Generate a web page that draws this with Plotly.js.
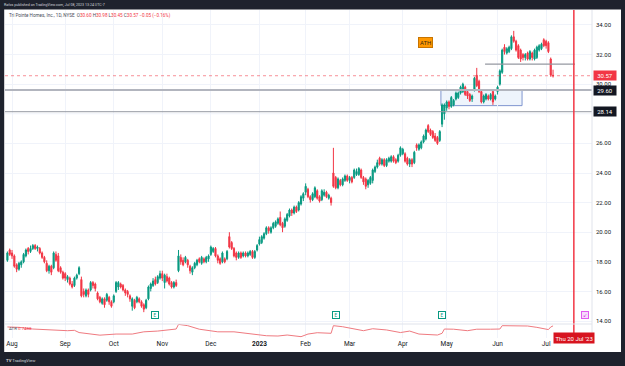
<!DOCTYPE html>
<html>
<head>
<meta charset="utf-8">
<script src="https://cdn.plot.ly/plotly-3.0.1.min.js"></script>
<style>
  html, body { margin: 0; padding: 0; background: #1e222d; }
  #chart { width: 625px; height: 366px; }
</style>
</head>
<body>
<div id="chart"></div>
<script>
// TPH daily sessions, 2022-07-28 .. 2023-07-07 (one value per trading day)
const open = [
 18.1,18.8,18.6,18.4,17.8,17.5,17.8,18.0,18.4,18.9,18.7,18.9,19.1,18.9,18.9,18.6,18.3,17.9,17.4,17.7,
 17.6,18.5,18.4,17.6,17.3,17.2,16.8,16.9,16.5,16.4,16.9,17.2,16.8,16.0,15.7,16.1,16.1,16.6,16.5,15.9,
 15.6,15.2,15.5,15.4,15.6,15.3,15.3,16.0,16.3,16.5,16.4,16.1,16.0,15.7,15.0,15.4,15.3,15.5,15.3,15.1,
 14.9,15.5,16.2,16.4,16.8,16.6,16.9,17.2,16.6,17.0,16.9,16.6,16.3,16.6,17.4,18.3,18.1,18.0,18.1,17.7,
 17.3,17.6,17.8,18.2,17.9,18.2,18.0,18.2,18.5,18.7,18.9,18.4,18.2,18.0,18.2,18.2,19.7,19.3,18.9,18.6,
 18.3,18.6,18.4,18.6,18.4,18.5,18.7,18.3,18.8,19.2,19.3,19.6,19.9,20.3,20.0,20.3,20.4,20.6,21.0,20.6,
 20.4,20.8,21.1,21.5,21.3,21.7,21.5,21.9,22.3,22.7,22.9,22.4,22.2,22.4,22.8,22.4,22.2,22.5,22.7,22.3,
 22.3,24.0,23.7,23.0,23.5,23.2,23.5,23.8,23.5,23.7,23.7,23.9,23.9,24.2,23.7,23.6,23.2,23.3,23.5,24.1,
 24.4,25.0,24.6,24.9,24.5,24.8,24.8,25.1,24.9,24.8,25.2,25.3,25.3,25.0,24.6,24.9,24.7,25.9,25.6,25.7,
 26.1,26.3,27.2,26.9,26.8,26.5,26.4,26.2,27.3,28.0,28.4,28.8,28.5,28.6,29.0,29.1,29.4,29.5,29.8,29.5,
 29.3,29.0,29.6,30.6,30.2,29.5,28.8,29.0,29.2,29.0,29.5,29.0,29.5,30.0,30.8,32.5,32.1,32.2,32.4,33.2,
 32.9,32.6,32.3,32.0,31.8,32.1,31.7,32.1,31.7,31.8,32.3,32.4,33.0,32.9,32.8,31.7,30.60
];
const high = [
 18.7,18.9,18.8,18.5,17.9,18.0,18.1,18.6,18.9,19.0,19.1,19.2,19.2,19.1,19.0,18.7,18.4,18.1,17.8,17.8,
 18.7,18.7,18.6,17.7,17.4,17.3,17.1,17.0,16.7,17.0,17.2,17.7,17.0,16.2,16.2,16.2,16.7,16.7,16.6,16.0,
 15.7,15.6,15.6,15.9,15.7,15.4,15.8,16.7,16.7,16.6,16.5,16.2,16.1,15.8,15.6,15.5,15.7,15.6,15.4,15.2,
 15.5,16.4,16.6,16.9,17.0,17.1,17.4,17.4,17.2,17.2,17.0,16.7,16.7,16.8,18.8,18.5,18.3,18.4,18.2,17.8,
 17.7,18.0,18.2,18.3,18.4,18.3,18.4,18.5,19.1,19.0,19.0,18.5,18.3,18.7,18.3,18.8,20.0,19.4,19.0,18.7,
 18.7,18.7,18.7,18.7,18.7,18.8,18.8,18.8,19.2,19.7,19.8,20.0,20.4,20.4,20.4,20.7,20.8,21.0,21.4,20.7,
 21.0,21.3,21.6,21.6,21.8,21.8,22.1,22.5,22.7,23.3,23.0,22.5,22.7,23.1,22.9,22.5,22.9,22.9,22.8,22.6,
 22.4,25.7,23.8,23.7,23.6,23.7,23.9,23.9,23.8,23.8,24.3,24.3,24.4,24.3,23.8,23.7,23.6,23.8,24.3,24.5,
 24.9,25.1,25.0,25.0,25.0,25.1,25.2,25.2,25.0,25.3,25.8,25.7,25.4,25.1,25.0,25.0,25.5,26.0,26.0,26.2,
 26.6,27.0,27.3,27.0,26.9,26.7,26.5,26.9,28.7,28.7,28.9,28.9,29.2,29.0,29.5,29.5,29.9,30.1,29.9,29.6,
 29.4,29.3,30.5,31.1,30.3,29.6,29.3,29.4,29.3,29.4,29.6,29.3,29.9,31.0,32.4,32.7,32.5,32.6,33.3,33.6,
 33.0,32.7,32.4,32.1,32.1,32.2,32.3,32.2,32.4,32.6,32.7,32.8,33.1,33.0,32.9,31.8,30.98
];
const low = [
 18.0,18.4,18.2,17.6,17.3,17.4,17.6,17.9,18.3,18.5,18.6,18.8,18.8,18.7,18.5,18.2,17.9,17.3,17.2,17.1,
 17.5,18.0,17.3,17.2,16.8,16.7,16.6,16.4,16.2,16.3,16.8,17.1,15.6,15.6,15.6,15.6,16.0,16.2,16.0,15.4,
 15.2,15.1,14.9,15.3,15.1,14.9,15.2,15.9,16.1,16.2,16.0,15.7,15.6,15.3,14.7,14.8,15.2,15.2,14.9,14.6,
 14.8,15.4,16.0,16.3,16.4,16.5,16.8,16.7,16.2,16.6,16.4,16.2,16.2,16.3,17.3,17.8,17.7,17.9,17.6,17.2,
 17.1,17.5,17.7,17.9,17.8,17.9,17.9,18.0,18.4,18.6,18.3,17.9,17.8,17.9,17.9,18.1,18.9,18.8,18.3,18.1,
 18.2,18.2,18.3,18.3,18.3,18.4,18.2,18.2,18.7,19.1,19.2,19.5,19.8,19.9,19.9,20.2,20.3,20.5,20.4,20.0,
 20.3,20.7,21.0,21.1,21.2,21.3,21.4,21.8,22.1,22.5,22.3,22.0,22.1,22.3,22.2,22.0,22.1,22.4,22.3,22.2,
 21.8,23.0,22.9,22.9,23.1,23.1,23.4,23.4,23.3,23.3,23.6,23.8,23.8,23.6,23.2,22.9,23.0,23.2,23.3,24.0,
 24.3,24.5,24.5,24.4,24.4,24.7,24.7,24.7,24.6,24.7,25.1,25.2,24.7,24.5,24.4,24.4,24.6,25.5,25.5,25.6,
 26.0,26.2,26.7,26.5,26.3,26.1,25.9,26.1,27.1,27.6,28.2,28.3,28.4,28.5,28.9,29.0,29.3,29.4,29.2,29.0,
 28.8,28.8,29.5,29.8,29.4,28.7,28.7,28.9,28.9,28.9,28.6,28.9,29.3,29.9,30.7,32.0,32.0,32.1,32.3,32.8,
 32.2,31.7,31.5,31.6,31.6,31.6,31.6,31.6,31.6,31.7,32.2,32.3,32.5,32.4,32.1,30.5,30.45
];
const close = [
 18.6,18.5,18.4,17.7,17.5,17.9,18.0,18.5,18.8,18.7,18.9,19.1,18.9,19.0,18.6,18.3,18.0,17.4,17.7,17.3,
 18.6,18.1,17.4,17.3,16.9,16.9,17.0,16.5,16.3,16.9,17.1,17.6,15.7,15.8,16.1,15.8,16.6,16.4,16.2,15.5,
 15.3,15.5,15.1,15.8,15.3,15.0,15.7,16.6,16.6,16.3,16.1,15.9,15.8,15.5,15.5,14.9,15.6,15.3,15.0,14.8,
 15.4,16.3,16.5,16.7,16.5,17.0,17.2,16.9,17.1,16.7,16.5,16.3,16.6,16.4,18.4,18.0,17.8,18.3,17.8,17.4,
 17.6,17.9,18.1,18.0,18.3,18.0,18.3,18.4,19.0,18.9,18.4,18.1,17.9,18.6,18.0,18.7,19.0,18.9,18.4,18.3,
 18.6,18.3,18.6,18.4,18.6,18.7,18.3,18.7,19.1,19.5,19.7,19.9,20.3,20.1,20.3,20.6,20.7,20.9,20.5,20.3,
 20.9,21.2,21.5,21.3,21.7,21.4,22.0,22.4,22.6,23.1,22.4,22.2,22.6,23.0,22.3,22.1,22.8,22.7,22.4,22.5,
 22.0,23.1,23.0,23.6,23.2,23.6,23.8,23.5,23.7,23.4,24.2,24.1,24.3,23.7,23.4,23.1,23.5,23.7,24.2,24.4,
 24.7,24.6,24.9,24.5,24.9,25.0,25.1,24.8,24.7,25.2,25.7,25.6,24.8,24.6,24.9,24.6,25.4,25.7,25.9,26.1,
 26.5,26.9,26.8,26.6,26.4,26.2,26.0,26.8,28.6,28.6,28.8,28.5,29.1,28.9,29.4,29.4,29.8,30.0,29.3,29.2,
 28.9,29.2,30.4,29.9,29.5,28.8,29.2,29.3,29.0,29.3,28.8,29.2,29.8,30.9,32.3,32.2,32.4,32.5,33.2,32.9,
 32.3,31.8,31.7,31.8,32.0,31.7,32.2,31.8,32.3,32.5,32.6,32.7,32.6,32.6,32.2,30.62,30.57
];

// ATR(14) readings along the lower pane: session index and value
const atrSession = [0,5,11,18,26,29,31,40,47,54,59,65,73,74,78,83,87,91,98,105,112,117,121,127,130,134,140,141,145,154,158,164,170,174,178,186,188,189,193,199,203,209,213,214,220,225,229,234,235,236];
const atrValue   = [0.72,0.71,0.665,0.64,0.62,0.63,0.57,0.50,0.53,0.53,0.59,0.61,0.665,0.79,0.755,0.66,0.62,0.59,0.59,0.53,0.485,0.477,0.504,0.46,0.53,0.566,0.55,0.755,0.727,0.62,0.673,0.64,0.57,0.61,0.53,0.504,0.55,0.665,0.66,0.62,0.66,0.66,0.665,0.755,0.755,0.746,0.71,0.65,0.72,0.7488];

// Time-axis labels: first session of each month
const monthSession = [2,25,46,67,88,109,129,148,171,190,212,233];
const monthLabel   = ['Aug','Sep','Oct','Nov','Dec','<b>2023</b>','Feb','Mar','Apr','May','Jun','Jul'];

// Price-scale labels (28.00 sits under the 28.14 level tag, so it is left out)
const priceTicks = [14, 16, 18, 20, 22, 24, 26, 30, 32, 34];

// Drawn levels
const lastClose = 30.57;
const supportHi = 29.60;
const supportLo = 28.14;
const rangeLevel = 31.36;
const earningsSessions = [64, 142, 188];
const markerSession = 245;   // Thu 20 Jul '23

const session = close.map((_, i) => i);

const UP = '#089981', DOWN = '#f23645';

const traces = [
  {
    type: 'candlestick', x: session, open: open, high: high, low: low, close: close,
    xaxis: 'x', yaxis: 'y',
    increasing: { line: { color: UP, width: 1 }, fillcolor: UP },
    decreasing: { line: { color: DOWN, width: 1 }, fillcolor: DOWN },
    whiskerwidth: 0, hoverinfo: 'skip', showlegend: false
  },
  {
    type: 'scatter', mode: 'lines', x: atrSession, y: atrValue,
    xaxis: 'x', yaxis: 'y2',
    line: { color: '#ef7a80', width: 1 }, hoverinfo: 'skip', showlegend: false
  }
];

const frame = '#1e222d';
const px = v => (v - 5) / 587;        // horizontal pixel -> paper
const py = v => (338 - v) / 328;      // vertical pixel -> paper

const shapes = [
  // grid line of the 28.00 level (its label is hidden by the tag)
  { type: 'line', xref: 'paper', yref: 'y', x0: 0, x1: 1, y0: 28, y1: 28,
    line: { color: '#f0f3fa', width: 1 }, layer: 'below' },
  // consolidation box
  { type: 'rect', xref: 'x', yref: 'y', x0: 187.5, x1: 222.6, y0: 28.55, y1: supportHi,
    fillcolor: '#eef4fc', line: { color: '#7f95cf', width: 1 }, layer: 'below' },
  // horizontal levels
  { type: 'line', xref: 'paper', yref: 'y', x0: 0, x1: 1, y0: supportHi, y1: supportHi,
    line: { color: '#b2b5be', width: 2 } },
  { type: 'line', xref: 'paper', yref: 'y', x0: 0, x1: 1, y0: supportLo, y1: supportLo,
    line: { color: '#9598a1', width: 1 } },
  { type: 'line', xref: 'x', yref: 'y', x0: 206.6, x1: 245.5, y0: rangeLevel, y1: rangeLevel,
    line: { color: '#9598a1', width: 1.2 } },
  { type: 'line', xref: 'paper', yref: 'y', x0: 0, x1: 1, y0: lastClose, y1: lastClose,
    line: { color: 'rgba(242,54,69,0.55)', width: 1, dash: 'dot' } },
  // vertical date marker
  { type: 'line', xref: 'x', yref: 'paper', x0: markerSession, x1: markerSession, y0: 0, y1: 1,
    line: { color: '#f23645', width: 1.5 } },
  // pane separator and price-scale border
  { type: 'line', xref: 'paper', yref: 'paper', x0: 0, x1: 1, y0: py(324), y1: py(324),
    line: { color: '#e0e3eb', width: 1 } },
  { type: 'line', xref: 'paper', yref: 'paper', x0: 1, x1: 1, y0: py(340), y1: 1,
    line: { color: '#e0e3eb', width: 1 } },
  // dark frame around the snapshot
  { type: 'rect', xref: 'paper', yref: 'paper', x0: -0.05, x1: 1.1, y0: py(9.5), y1: 1.1,
    fillcolor: frame, line: { width: 0 }, layer: 'above' },
  { type: 'rect', xref: 'paper', yref: 'paper', x0: -0.05, x1: 1.1, y0: -0.2, y1: py(352),
    fillcolor: frame, line: { width: 0 }, layer: 'above' },
  { type: 'rect', xref: 'paper', yref: 'paper', x0: -0.05, x1: px(4.2), y0: -0.2, y1: 1.1,
    fillcolor: frame, line: { width: 0 }, layer: 'above' },
  { type: 'rect', xref: 'paper', yref: 'paper', x0: px(621), x1: 1.1, y0: -0.2, y1: 1.1,
    fillcolor: frame, line: { width: 0 }, layer: 'above' }
];

const red = '#f23645';
const tag = (v, bg) => ({
  xref: 'paper', yref: 'y', x: px(593), y: v, xanchor: 'left', yanchor: 'middle',
  text: v.toFixed(2), showarrow: false, bgcolor: bg, borderpad: 1, width: 20, height: 7,
  font: { size: 6, color: '#ffffff', family: 'Roboto' }
});

const annotations = [
  { xref: 'paper', yref: 'paper', x: px(2), y: py(4.8), xanchor: 'left', yanchor: 'middle', showarrow: false,
    text: 'Rafos published on TradingView.com, Jul 08, 2023 13:24 UTC-7',
    font: { size: 3.6, color: '#d1d4dc', family: 'Roboto' } },
  { xref: 'paper', yref: 'paper', x: px(6.5), y: py(15), xanchor: 'left', yanchor: 'middle', showarrow: false,
    text: 'Tri Pointe Homes, Inc., 1D, NYSE  O<span style="color:' + red + '">30.60</span> H<span style="color:' + red + '">30.98</span> L<span style="color:' + red + '">30.45</span> C<span style="color:' + red + '">30.57</span> <span style="color:' + red + '">−0.05 (−0.16%)</span>',
    font: { size: 4.6, color: '#4a4e5a', family: 'Roboto' } },
  { xref: 'paper', yref: 'paper', x: px(6.5), y: py(328), xanchor: 'left', yanchor: 'middle', showarrow: false,
    text: 'ATR <span style="color:' + red + '">0.7488</span>',
    font: { size: 4.4, color: '#4a4e5a', family: 'Roboto' } },
  { xref: 'paper', yref: 'paper', x: px(3.5), y: py(360), xanchor: 'left', yanchor: 'middle', showarrow: false,
    text: '<b>TV</b> TradingView', font: { size: 4.2, color: '#d1d4dc', family: 'Roboto' } },
  tag(lastClose, red),
  tag(supportHi, '#131722'),
  tag(supportLo, '#131722'),
  { xref: 'x', yref: 'y', x: 181, y: 32.8, showarrow: false, text: 'ATH',
    bgcolor: '#ff9800', bordercolor: '#c77400', borderwidth: 1, borderpad: 1,
    font: { size: 6, color: '#3a2a10', family: 'Roboto' } },
  { xref: 'x', yref: 'paper', x: markerSession, y: py(343.5), showarrow: false,
    text: "Thu 20 Jul '23", bgcolor: '#d7141f', borderpad: 1.5,
    font: { size: 6, color: '#ffffff', family: 'Roboto' } }
];

earningsSessions.forEach(s => annotations.push({
  xref: 'x', yref: 'paper', x: s, y: py(318.5), showarrow: false, text: 'E',
  bgcolor: '#ffffff', bordercolor: UP, borderwidth: 1, borderpad: 0.5, width: 5, height: 5,
  font: { size: 4.5, color: UP, family: 'Roboto' }
}));
annotations.push({
  xref: 'x', yref: 'paper', x: 250, y: py(318.5), showarrow: false, text: '↙',
  bgcolor: '#f6dcfb', bordercolor: '#e15cf0', borderwidth: 1, borderpad: 0.5, width: 5, height: 5,
  font: { size: 5, color: '#d43fe8', family: 'DejaVu Sans' }
});

const layout = {
  width: 625, height: 366,
  margin: { l: 5, r: 33, t: 10, b: 28 },
  paper_bgcolor: '#ffffff', plot_bgcolor: '#ffffff',
  showlegend: false,
  font: { family: 'Roboto, sans-serif', color: '#131722' },
  xaxis: {
    anchor: 'y2', range: [-1.04, 252.85],
    tickmode: 'array', tickvals: monthSession, ticktext: monthLabel,
    showgrid: true, gridcolor: '#f0f3fa', gridwidth: 1,
    zeroline: false, showline: false, ticks: '',
    tickfont: { size: 6.5, color: '#131722' },
    rangeslider: { visible: false }, fixedrange: true
  },
  yaxis: {
    domain: [py(324), 1], range: [13.80, 35.01], anchor: 'x', side: 'right',
    tickmode: 'array', tickvals: priceTicks, ticktext: priceTicks.map(v => v.toFixed(2)),
    showgrid: true, gridcolor: '#f0f3fa', gridwidth: 1,
    zeroline: false, showline: false, ticks: '',
    tickfont: { size: 6, color: '#131722' }, ticklabelstandoff: 3, fixedrange: true
  },
  yaxis2: {
    domain: [0, py(324)], range: [0.424, 0.80], anchor: 'x',
    showticklabels: false, showgrid: false, zeroline: false, fixedrange: true
  },
  shapes: shapes,
  annotations: annotations
};

Plotly.newPlot('chart', traces, layout, { staticPlot: true, displayModeBar: false });
</script>
</body>
</html>
